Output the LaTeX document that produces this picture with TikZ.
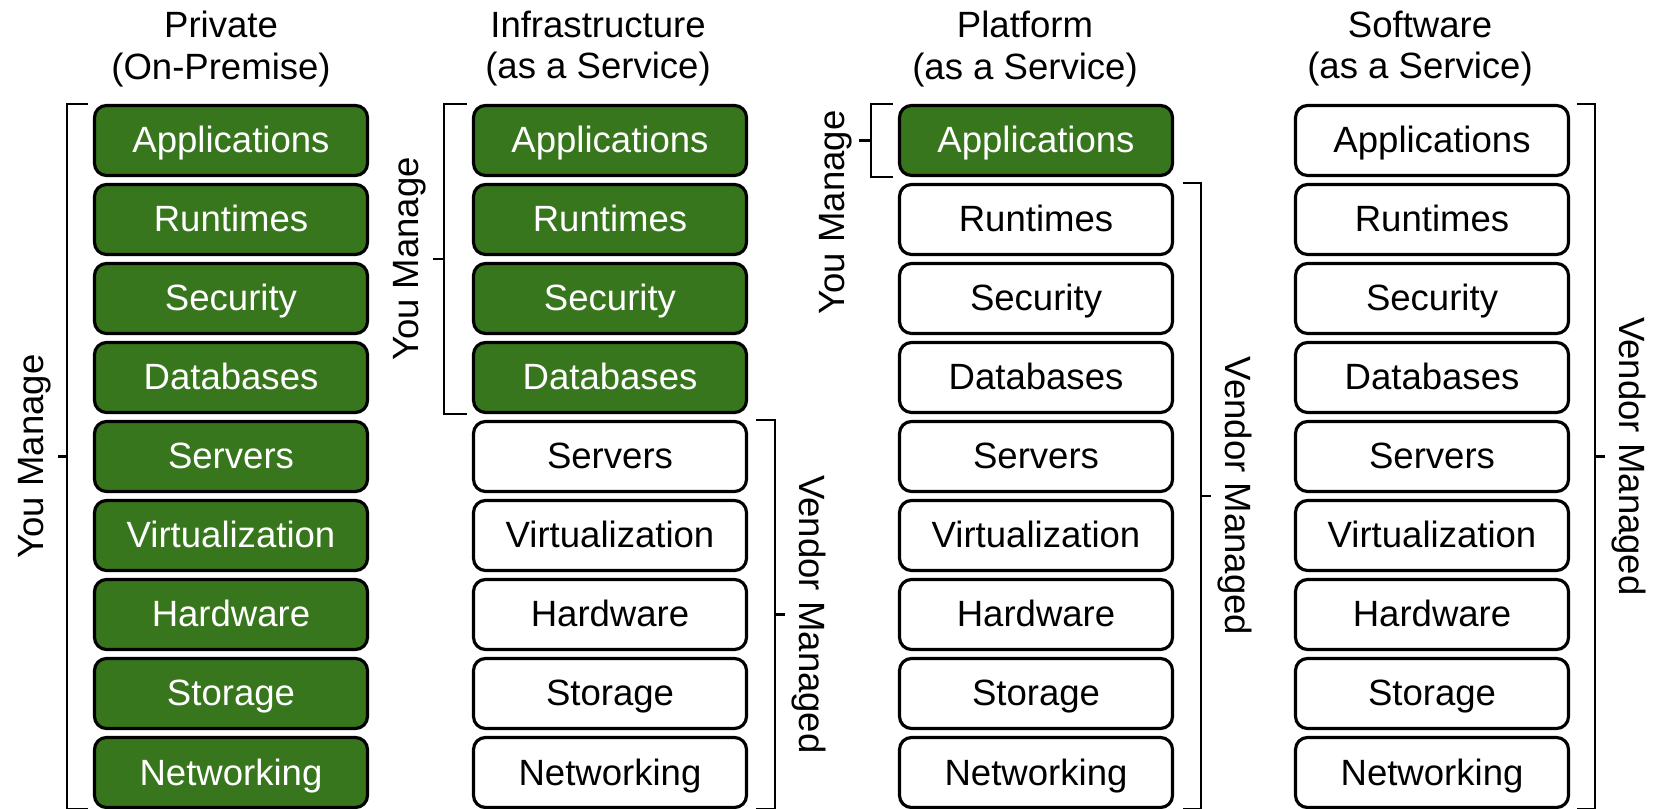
\documentclass[tikz,border=0pt]{standalone}
\usepackage{fontspec}
\setmainfont{Liberation Sans}
\usetikzlibrary{calc}
\definecolor{mgreen}{HTML}{38761D}

\begin{document}
\begin{tikzpicture}[layer/.style = {draw, rounded corners=0.12cm, line width=0.9pt, minimum width=2.73cm, minimum height=0.70cm, inner sep=0pt, text height=0.28cm, text depth=0.03cm, font=\fontsize{10.4}{12}\selectfont},
    you/.style = {layer, fill=mgreen, text=white},
    vendor/.style = {layer, fill=white},
    title/.style = {align=center, anchor=north, inner sep=0pt, font=\fontsize{10.4}{11.9}\selectfont},
    brace/.style = {line width=0.7pt},
    side/.style = {inner sep=0.06cm, font=\fontsize{10.4}{12}\selectfont},
    node distance=0.79cm]

    \useasboundingbox (0,0) rectangle (16.55,-8.09);

    % headings
    \node[title] (t1) at (2.21,-0.10) {Private\\(On-Premise)};
    \node[title] (t2) at (5.98,-0.10) {Infrastructure\\(as a Service)};
    \node[title] (t3) at (10.25,-0.10) {Platform\\(as a Service)};
    \node[title] (t4) at (14.20,-0.10) {Software\\(as a Service)};

    % private
    \node[you] (p1) at (2.31,-1.405) {Applications};
    \node[you] (p2) [below of=p1] {Runtimes};
    \node[you] (p3) [below of=p2] {Security};
    \node[you] (p4) [below of=p3] {Databases};
    \node[you] (p5) [below of=p4] {Servers};
    \node[you] (p6) [below of=p5] {Virtualization};
    \node[you] (p7) [below of=p6] {Hardware};
    \node[you] (p8) [below of=p7] {Storage};
    \node[you] (p9) [below of=p8] {Networking};

    % infrastructure
    \node[you] (i1) at (6.10,-1.405) {Applications};
    \node[you] (i2) [below of=i1] {Runtimes};
    \node[you] (i3) [below of=i2] {Security};
    \node[you] (i4) [below of=i3] {Databases};
    \node[vendor] (i5) [below of=i4] {Servers};
    \node[vendor] (i6) [below of=i5] {Virtualization};
    \node[vendor] (i7) [below of=i6] {Hardware};
    \node[vendor] (i8) [below of=i7] {Storage};
    \node[vendor] (i9) [below of=i8] {Networking};

    % platform
    \node[you] (a1) at (10.36,-1.405) {Applications};
    \node[vendor] (a2) [below of=a1] {Runtimes};
    \node[vendor] (a3) [below of=a2] {Security};
    \node[vendor] (a4) [below of=a3] {Databases};
    \node[vendor] (a5) [below of=a4] {Servers};
    \node[vendor] (a6) [below of=a5] {Virtualization};
    \node[vendor] (a7) [below of=a6] {Hardware};
    \node[vendor] (a8) [below of=a7] {Storage};
    \node[vendor] (a9) [below of=a8] {Networking};

    % software
    \node[vendor] (s1) at (14.32,-1.405) {Applications};
    \node[vendor] (s2) [below of=s1] {Runtimes};
    \node[vendor] (s3) [below of=s2] {Security};
    \node[vendor] (s4) [below of=s3] {Databases};
    \node[vendor] (s5) [below of=s4] {Servers};
    \node[vendor] (s6) [below of=s5] {Virtualization};
    \node[vendor] (s7) [below of=s6] {Hardware};
    \node[vendor] (s8) [below of=s7] {Storage};
    \node[vendor] (s9) [below of=s8] {Networking};

    % brackets
    \draw[brace] ([xshift=-0.05cm]p1.north west) -- ++(-0.21,0) |- ([xshift=-0.05cm]p9.south west);
    \draw[brace] ([xshift=-0.26cm]p5.west) -- ++(-0.09,0) node[side, rotate=90, anchor=south] (ym1) {You Manage};

    \draw[brace] ([xshift=-0.05cm]i1.north west) -- ++(-0.23,0) |- ([xshift=-0.05cm]i4.south west);
    \draw[brace] ([xshift=-0.28cm]$(i2.south west)!0.5!(i3.north west)$) -- ++(-0.11,0) node[side, rotate=90, anchor=south] (ym2) {You Manage};
    \draw[brace] ([xshift=0.08cm]i5.north east) -- ++(0.19,0) |- ([xshift=0.08cm]i9.south east);
    \draw[brace] ([xshift=0.27cm]i7.east) -- ++(0.10,0) node[side, rotate=-90, anchor=south] (vm2) {Vendor Managed};

    \draw[brace] ([xshift=-0.05cm]a1.north west) -- ++(-0.22,0) |- ([xshift=-0.05cm]a1.south west);
    \draw[brace] ([xshift=-0.27cm]a1.west) -- ++(-0.12,0);
    \node[side, rotate=90, anchor=south east] (ym3) at ([xshift=-0.39cm]a1.north west) {You Manage};
    \draw[brace] ([xshift=0.09cm]a2.north east) -- ++(0.18,0) |- ([xshift=0.09cm]a9.south east);
    \draw[brace] ([xshift=0.27cm]$(a5.south east)!0.5!(a6.north east)$) -- ++(0.10,0) node[side, rotate=-90, anchor=south] (vm3) {Vendor Managed};

    \draw[brace] ([xshift=0.07cm]s1.north east) -- ++(0.18,0) |- ([xshift=0.07cm]s9.south east);
    \draw[brace] ([xshift=0.25cm]s5.east) -- ++(0.10,0) node[side, rotate=-90, anchor=south] (vm4) {Vendor Managed};
\end{tikzpicture}
\end{document}
